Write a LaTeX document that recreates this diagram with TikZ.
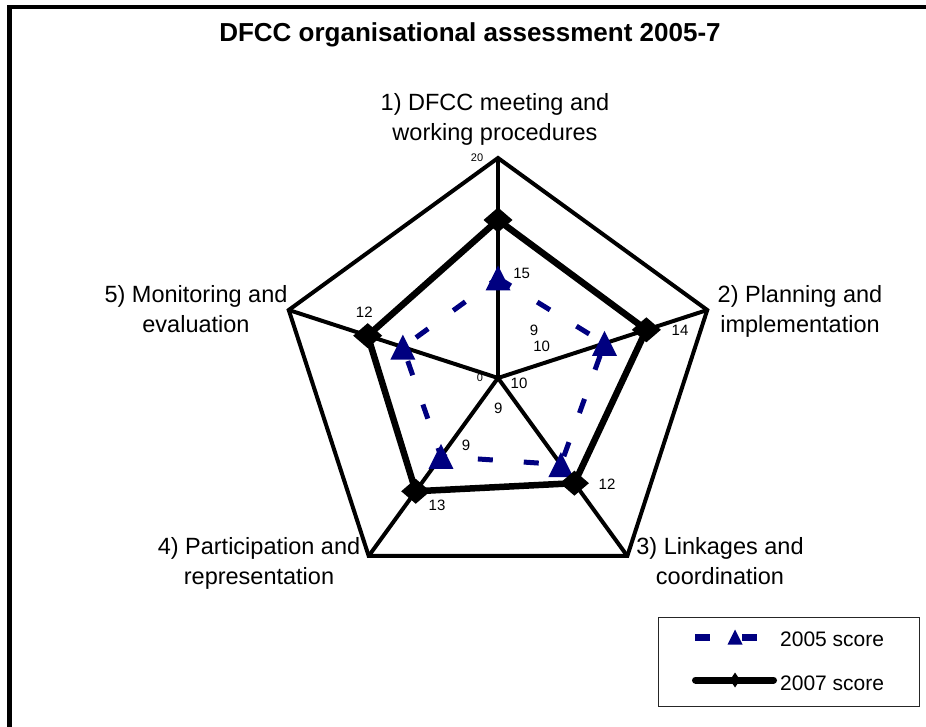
\documentclass[tikz,border=0pt]{standalone}
\usepackage{fontspec}
\setmainfont{Liberation Sans}
\usetikzlibrary{calc}
\definecolor{navyc}{RGB}{0,0,128}
\begin{document}
\begin{tikzpicture}[x=1pt,y=-1pt,
  axislbl/.style={font=\fontsize{23.5}{30}\selectfont, align=center, inner sep=0pt, anchor=north},
  datalbl/.style={font=\fontsize{15}{18}\selectfont, inner sep=0pt},
  ticklbl/.style={font=\fontsize{11}{13}\selectfont, inner sep=0pt},
  legendlbl/.style={font=\fontsize{21}{24}\selectfont, inner sep=0pt, anchor=base west},
  gridline/.style={black, line width=4pt, line join=miter},
  sfive/.style={navyc, line width=5pt, dash pattern=on 15pt off 31pt},
  sseven/.style={black, line width=6.5pt, line join=miter},
  tri/.pic={\fill[navyc] (-12.5,12.5) -- (12.5,12.5) -- (0,-12.5) -- cycle;},
  dia/.pic={\fill[black] (0,-12.5) -- (14.5,0) -- (0,12.5) -- (-14.5,0) -- cycle;},
  smalltri/.pic={\fill[navyc] (-7.5,7.5) -- (7.5,7.5) -- (0,-7.5) -- cycle;},
  smalldia/.pic={\fill[black] (0,-7.5) -- (5,0) -- (0,7.5) -- (-5,0) -- cycle;},
]
\useasboundingbox (0,0) rectangle (926,727);
\fill[white] (0,0) rectangle (926,727);
% frame
\coordinate (fr1) at (926,7);
\coordinate (fr2) at (9.5,7);
\coordinate (fr3) at (9.5,727);
\draw[line width=4.5pt, line join=miter] (fr1) -- (fr2) -- (fr3);

% title
\node[font=\fontsize{26}{30}\selectfont\bfseries, inner sep=0pt, anchor=base] (title) at (470,42) {DFCC organisational assessment 2005-7};

% geometry
\coordinate (c) at (498,378);
\foreach \i/\a in {1/-90,2/-18,3/54,4/126,5/-162} {
  \coordinate (v\i) at ($(c)+(\a:220)$);
}
\foreach \i/\a/\r in {1/-90/100,2/-18/112,3/54/107,4/126/97,5/-162/100} {
  \coordinate (a\i) at ($(c)+(\a:\r)$);
}
\foreach \i/\a/\r in {1/-90/158,2/-18/156,3/54/130,4/126/140,5/-162/137} {
  \coordinate (b\i) at ($(c)+(\a:\r)$);
}

% tick labels
\node[ticklbl] (t20) at (477,158) {20};
\node[ticklbl] (t0) at (480,378) {0};

% grid
\draw[gridline] (v1) -- (v2) -- (v3) -- (v4) -- (v5) -- cycle;
\foreach \i in {1,...,5} { \draw[gridline] (c) -- (v\i); }

% series
\draw[sfive] (a1) -- (a2) -- (a3) -- (a4) -- (a5) -- cycle;
\foreach \i in {1,...,5} { \pic at (a\i) {tri}; }
\draw[sseven] (b1) -- (b2) -- (b3) -- (b4) -- (b5) -- cycle;
\foreach \i in {1,...,5} { \pic at (b\i) {dia}; }

% data labels
\node[datalbl] (d15) at (521.7,273.7) {15};
\node[datalbl] (d9a) at (534,330.7) {9};
\node[datalbl] (d10a) at (541.7,346) {10};
\node[datalbl] (d14) at (680,330) {14};
\node[datalbl] (d12a) at (364.3,312.7) {12};
\node[datalbl] (d10b) at (519,383.3) {10};
\node[datalbl] (d9b) at (498.3,408.3) {9};
\node[datalbl] (d9c) at (466,445) {9};
\node[datalbl] (d13) at (437,505.7) {13};
\node[datalbl] (d12b) at (607,484) {12};

% axis labels
\node[axislbl] (ax1) at (495,93) {1) DFCC meeting and\\working procedures};
\node[axislbl] (ax2) at (800,285) {2) Planning and\\implementation};
\node[axislbl] (ax3) at (720,537) {3) Linkages and\\coordination};
\node[axislbl] (ax4) at (259,537) {4) Participation and\\representation};
\node[axislbl] (ax5) at (196,285) {5) Monitoring and\\evaluation};

% legend
\node[draw=black!85, line width=1pt, minimum width=261pt, minimum height=89pt, inner sep=0pt, anchor=north west] (legend) at (658,617) {};
\coordinate (la) at (695,637);
\coordinate (lb) at (757,637);
\draw[navyc, line width=7pt, dash pattern=on 15pt off 32pt] (la) -- (lb);
\pic at (735,637) {smalltri};
\coordinate (lc) at (695.5,680);
\coordinate (ld) at (773.5,680);
\draw[black, line width=7pt, line cap=round] (lc) -- (ld);
\pic at (735,680) {smalldia};
\node[legendlbl] (l2005) at (780,646.7) {2005 score};
\node[legendlbl] (l2007) at (780,690.7) {2007 score};
\end{tikzpicture}
\end{document}
